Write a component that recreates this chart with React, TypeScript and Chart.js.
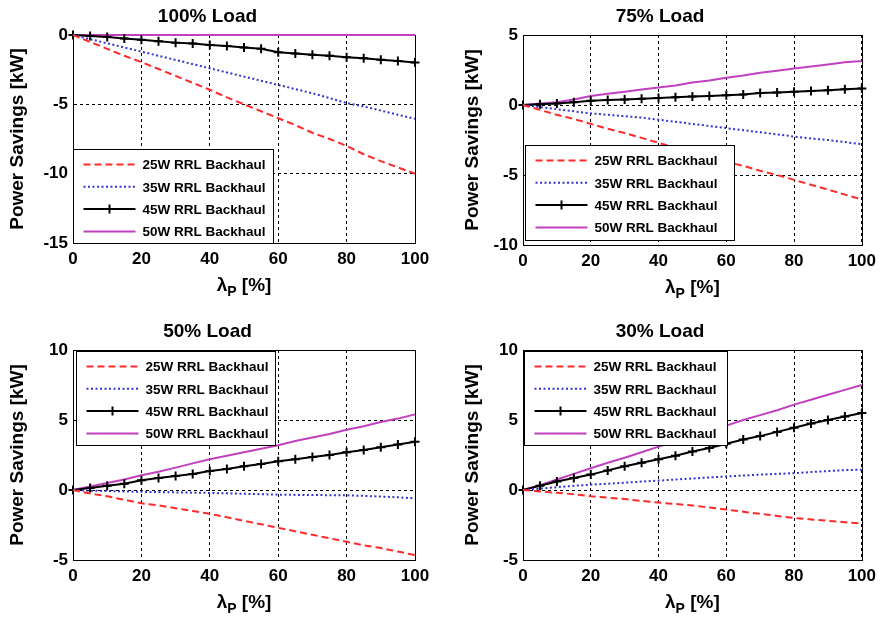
import React, { useEffect, useRef } from 'react';
import { Chart, registerables } from 'chart.js';

Chart.register(...registerables);

const FONT = '"Liberation Sans", Arial, Helvetica, sans-serif';

// x values: lambda_P [%]
const LAMBDA = [0, 5, 10, 15, 20, 25, 30, 35, 40, 45, 50, 55, 60, 65, 70, 75, 80, 85, 90, 95, 100];
const SERIES_LABELS = ['25W RRL Backhaul', '35W RRL Backhaul', '45W RRL Backhaul', '50W RRL Backhaul'];
const X_TICKS = [0, 20, 40, 60, 80, 100];

// 100% Load
const L100_25W = [0, -0.5, -1.0, -1.5, -1.95, -2.45, -2.95, -3.45, -3.95, -4.5, -5.0, -5.5, -6.0, -6.5, -7.05, -7.5, -8.0, -8.6, -9.1, -9.55, -10.0];
const L100_35W = [0, -0.3, -0.6, -0.9, -1.2, -1.5, -1.8, -2.1, -2.4, -2.7, -3.0, -3.3, -3.6, -3.9, -4.2, -4.55, -4.9, -5.15, -5.45, -5.75, -6.05];
const L100_45W = [0, -0.08, -0.15, -0.25, -0.35, -0.45, -0.55, -0.62, -0.72, -0.8, -0.9, -1.0, -1.25, -1.33, -1.42, -1.5, -1.6, -1.68, -1.78, -1.87, -1.98];
const L100_50W = [0, 0, 0, 0, 0, 0, 0, 0, 0, 0, 0, 0, 0, 0, 0, 0, 0, 0, 0, 0, 0];

// 75% Load
const L75_25W = [0, -0.35, -0.7, -1.0, -1.35, -1.7, -2.0, -2.35, -2.7, -3.05, -3.4, -3.7, -4.05, -4.35, -4.7, -5.0, -5.35, -5.7, -6.05, -6.4, -6.75];
const L75_35W = [0, -0.15, -0.3, -0.45, -0.6, -0.7, -0.8, -0.9, -1.05, -1.2, -1.35, -1.5, -1.65, -1.8, -1.95, -2.1, -2.25, -2.4, -2.5, -2.65, -2.8];
const L75_45W = [0, 0.05, 0.1, 0.2, 0.3, 0.35, 0.4, 0.45, 0.5, 0.55, 0.6, 0.65, 0.7, 0.75, 0.85, 0.9, 0.95, 1.0, 1.05, 1.12, 1.18];
const L75_50W = [0, 0.1, 0.2, 0.4, 0.65, 0.8, 0.95, 1.1, 1.25, 1.4, 1.6, 1.75, 1.95, 2.1, 2.3, 2.45, 2.6, 2.75, 2.9, 3.05, 3.15];

// 50% Load
const L50_25W = [0, -0.25, -0.45, -0.7, -0.95, -1.1, -1.3, -1.5, -1.7, -1.95, -2.2, -2.45, -2.7, -2.95, -3.2, -3.45, -3.7, -3.95, -4.15, -4.4, -4.65];
const L50_35W = [0, -0.05, -0.07, -0.1, -0.13, -0.15, -0.17, -0.19, -0.21, -0.24, -0.27, -0.3, -0.33, -0.35, -0.36, -0.37, -0.38, -0.42, -0.47, -0.52, -0.6];
const L50_45W = [0, 0.15, 0.3, 0.45, 0.7, 0.85, 1.0, 1.15, 1.35, 1.5, 1.7, 1.85, 2.05, 2.2, 2.35, 2.5, 2.7, 2.85, 3.05, 3.25, 3.45];
const L50_50W = [0, 0.25, 0.5, 0.75, 1.05, 1.3, 1.6, 1.9, 2.2, 2.45, 2.7, 2.95, 3.2, 3.5, 3.75, 4.0, 4.3, 4.55, 4.85, 5.1, 5.4];

// 30% Load
const L30_25W = [0, -0.1, -0.2, -0.3, -0.45, -0.55, -0.65, -0.78, -0.9, -1.0, -1.1, -1.25, -1.4, -1.55, -1.7, -1.85, -2.0, -2.1, -2.2, -2.3, -2.4];
const L30_35W = [0, 0.1, 0.2, 0.3, 0.38, 0.45, 0.52, 0.6, 0.67, 0.75, 0.82, 0.9, 0.97, 1.03, 1.1, 1.15, 1.2, 1.28, 1.35, 1.42, 1.45];
const L30_45W = [0, 0.3, 0.6, 0.85, 1.1, 1.4, 1.7, 1.95, 2.2, 2.45, 2.75, 3.0, 3.3, 3.6, 3.85, 4.15, 4.45, 4.75, 5.0, 5.25, 5.5];
const L30_50W = [0, 0.35, 0.75, 1.15, 1.55, 1.95, 2.3, 2.7, 3.1, 3.45, 3.85, 4.25, 4.6, 5.0, 5.35, 5.7, 6.1, 6.45, 6.8, 7.15, 7.5];

const STYLES = [
  { color: '#ff2a2a', dash: [7, 4], point: false },
  { color: '#3434cc', dash: [2, 2.5], point: false },
  { color: '#000000', dash: [], point: true },
  { color: '#c040c0', dash: [], point: false },
];

type PanelCfg = {
  title: string;
  yMin: number;
  yMax: number;
  series: number[][];
  left: number;
  top: number;
  padLeft: number;
  padRight: number;
  yWidth: number;
  xHeight: number;
  titlePadTop: number;
  titlePadBottom: number;
  legend: { dx: number; dy: number; w: number; h: number };
};

const PANELS: PanelCfg[] = [
  {
    title: '100% Load', yMin: -15, yMax: 0, series: [L100_25W, L100_35W, L100_45W, L100_50W],
    left: 0, top: 0, padLeft: 0, padRight: 26, yWidth: 73, xHeight: 69, titlePadTop: 5, titlePadBottom: 7.2,
    legend: { dx: 0, dy: 114, w: 200, h: 94 },
  },
  {
    title: '75% Load', yMin: -10, yMax: 5, series: [L75_25W, L75_35W, L75_45W, L75_50W],
    left: 441, top: 0, padLeft: 14, padRight: 17, yWidth: 68, xHeight: 67, titlePadTop: 5, titlePadBottom: 7.2,
    legend: { dx: 2, dy: 110, w: 209, h: 95 },
  },
  {
    title: '50% Load', yMin: -5, yMax: 10, series: [L50_25W, L50_35W, L50_45W, L50_50W],
    left: 0, top: 312, padLeft: 0, padRight: 26, yWidth: 73, xHeight: 64, titlePadTop: 8.6, titlePadBottom: 6.6,
    legend: { dx: 3, dy: 1, w: 199, h: 94 },
  },
  {
    title: '30% Load', yMin: -5, yMax: 10, series: [L30_25W, L30_35W, L30_45W, L30_50W],
    left: 441, top: 312, padLeft: 14, padRight: 17, yWidth: 68, xHeight: 64, titlePadTop: 8.6, titlePadBottom: 6.6,
    legend: { dx: 1, dy: 1, w: 203, h: 94 },
  },
];

const framePlugin = {
  id: 'frame',
  beforeDatasetsDraw(chart: any) {
    const { ctx, chartArea: a } = chart;
    ctx.save();
    ctx.setLineDash([]);
    ctx.strokeStyle = '#000';
    ctx.lineWidth = 1;
    ctx.strokeRect(Math.round(a.left) + 0.5, Math.round(a.top) + 0.5, Math.round(a.right - a.left), Math.round(a.bottom - a.top));
    ctx.restore();
  },
};

const boxLegendPlugin = {
  id: 'boxLegend',
  afterDatasetsDraw(chart: any, _args: any, opts: any) {
    const { ctx, chartArea: a } = chart;
    const x = Math.round(a.left + opts.dx) + 0.5;
    const y = Math.round(a.top + opts.dy) + 0.5;
    ctx.save();
    ctx.fillStyle = '#fff';
    ctx.fillRect(x, y, opts.w, opts.h);
    ctx.strokeStyle = '#000';
    ctx.lineWidth = 1;
    ctx.setLineDash([]);
    ctx.strokeRect(x, y, opts.w, opts.h);
    chart.data.datasets.forEach((ds: any, i: number) => {
      const ry = y + 15 + i * 22.3;
      const x0 = x + 10;
      const x1 = x + 62;
      ctx.beginPath();
      ctx.setLineDash(ds.borderDash || []);
      ctx.strokeStyle = ds.borderColor;
      ctx.lineWidth = ds.borderWidth;
      ctx.moveTo(x0, ry);
      ctx.lineTo(x1, ry);
      ctx.stroke();
      ctx.setLineDash([]);
      if (ds.pointRadius > 0) {
        const mx = (x0 + x1) / 2;
        ctx.beginPath();
        ctx.moveTo(mx, ry - ds.pointRadius);
        ctx.lineTo(mx, ry + ds.pointRadius);
        ctx.moveTo(mx - ds.pointRadius, ry);
        ctx.lineTo(mx + ds.pointRadius, ry);
        ctx.lineWidth = 2;
        ctx.stroke();
      }
      ctx.fillStyle = '#000';
      ctx.font = `bold 13.5px ${FONT}`;
      ctx.textBaseline = 'middle';
      ctx.textAlign = 'left';
      ctx.fillText(ds.label, x + 69, ry + 1);
    });
    ctx.restore();
  },
};

const xTitlePlugin = {
  id: 'xTitle',
  afterDraw(chart: any) {
    const { ctx, chartArea: a } = chart;
    const big = `bold 19px ${FONT}`;
    const small = `bold 14px ${FONT}`;
    ctx.save();
    ctx.fillStyle = '#000';
    ctx.textBaseline = 'middle';
    ctx.textAlign = 'left';
    ctx.font = big;
    const w1 = ctx.measureText('λ').width;
    const w3 = ctx.measureText(' [%]').width;
    ctx.font = small;
    const w2 = ctx.measureText('P').width;
    const total = w1 + w2 + w3;
    const cx = (a.left + a.right) / 2;
    const cy = a.bottom + 43;
    let px = cx - total / 2;
    ctx.font = big;
    ctx.fillText('λ', px, cy);
    px += w1;
    ctx.font = small;
    ctx.fillText('P', px, cy + 6);
    px += w2;
    ctx.font = big;
    ctx.fillText(' [%]', px, cy);
    ctx.restore();
  },
};

function Panel({ cfg }: { cfg: PanelCfg }) {
  const ref = useRef<HTMLCanvasElement>(null);
  useEffect(() => {
    const datasets = cfg.series.map((vals, i) => {
      const st = STYLES[i];
      return {
        label: SERIES_LABELS[i],
        data: vals.map((v, k) => ({ x: LAMBDA[k], y: v })),
        borderColor: st.color,
        backgroundColor: st.color,
        borderWidth: 2,
        borderDash: st.dash,
        pointStyle: 'cross',
        pointRadius: st.point ? 4.5 : 0,
        pointBorderWidth: 2,
        pointBorderColor: st.color,
        pointHoverRadius: 0,
        tension: 0,
        fill: false,
        clip: false,
      };
    });
    const chart = new Chart(ref.current as HTMLCanvasElement, {
      type: 'line',
      data: { datasets: datasets as any },
      plugins: [framePlugin, boxLegendPlugin, xTitlePlugin],
      options: {
        responsive: false,
        animation: false,
        events: [],
        layout: { padding: { left: cfg.padLeft, right: cfg.padRight, top: 0, bottom: 0 } },
        plugins: {
          legend: { display: false },
          tooltip: { enabled: false },
          title: {
            display: true,
            text: cfg.title,
            color: '#000',
            font: { family: FONT, size: 19, weight: 'bold' },
            padding: { top: cfg.titlePadTop, bottom: cfg.titlePadBottom },
          },
          boxLegend: cfg.legend,
        } as any,
        scales: {
          x: {
            type: 'linear',
            min: 0,
            max: 100,
            afterBuildTicks: (scale: any) => {
              scale.ticks = X_TICKS.map((v) => ({ value: v }));
            },
            afterFit: (scale: any) => {
              scale.height = cfg.xHeight;
            },
            ticks: {
              color: '#000',
              font: { family: FONT, size: 17, weight: 'bold' },
              padding: 6,
              maxRotation: 0,
              autoSkip: false,
            },
            grid: { color: '#000', lineWidth: 1, drawTicks: false },
            border: { display: true, color: '#000', width: 1, dash: [3, 3] },
          },
          y: {
            type: 'linear',
            min: cfg.yMin,
            max: cfg.yMax,
            afterFit: (scale: any) => {
              scale.width = cfg.yWidth;
            },
            ticks: {
              stepSize: 5,
              color: '#000',
              font: { family: FONT, size: 17, weight: 'bold' },
              padding: 5,
            },
            grid: { color: '#000', lineWidth: 1, drawTicks: false },
            border: { display: true, color: '#000', width: 1, dash: [3, 3] },
            title: {
              display: true,
              text: 'Power Savings [kW]',
              color: '#000',
              font: { family: FONT, size: 19, weight: 'bold' },
              padding: { top: 6, bottom: 0 },
            },
          },
        },
      } as any,
    });
    return () => chart.destroy();
  }, [cfg]);
  return (
    <div style={{ position: 'absolute', left: cfg.left, top: cfg.top, width: 441, height: 312 }}>
      <canvas ref={ref} width={441} height={312} style={{ display: 'block' }} />
    </div>
  );
}

export default function App() {
  return (
    <div style={{ position: 'absolute', left: 0, top: 0, width: 882, height: 624, background: '#fff' }}>
      {PANELS.map((p) => (
        <Panel key={p.title} cfg={p} />
      ))}
    </div>
  );
}
